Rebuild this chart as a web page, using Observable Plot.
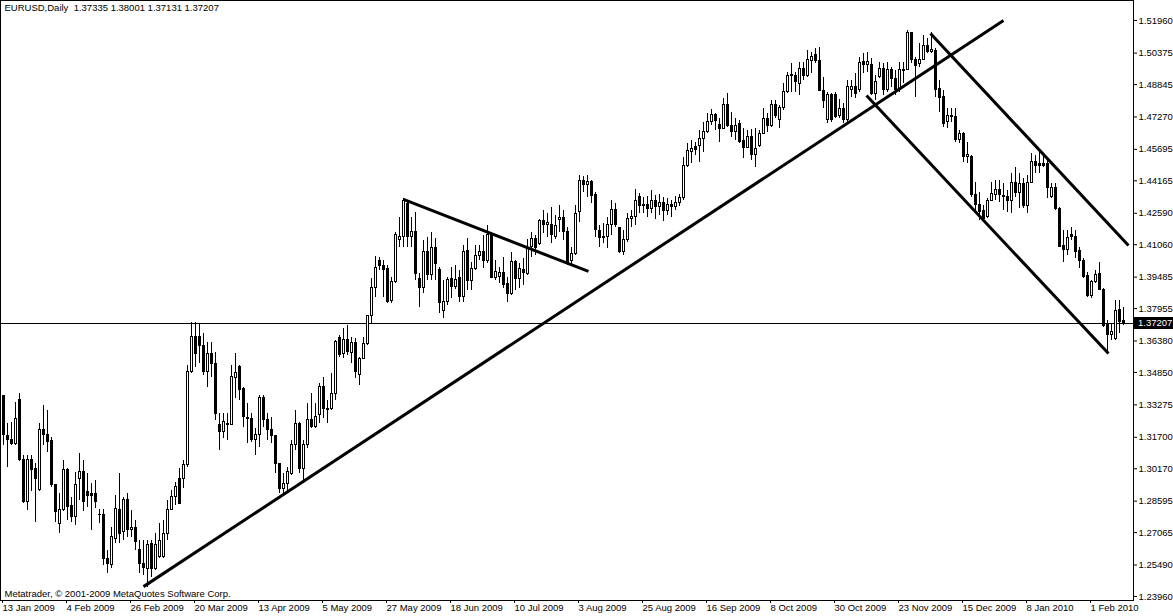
<!DOCTYPE html>
<html><head><meta charset="utf-8">
<script src="https://cdn.jsdelivr.net/npm/d3@7"></script>
<script src="https://cdn.jsdelivr.net/npm/@observablehq/plot@0.6"></script>
<style>
html,body{margin:0;padding:0;background:#fff;}
#chart{width:1173px;height:616px;overflow:hidden}
</style></head><body><div id="chart"></div>
<script>
const symbolTitle = "EURUSD,Daily  1.37335 1.38001 1.37131 1.37207";
const copyright = "Metatrader, \u00A9 2001-2009 MetaQuotes Software Corp.";
const opens = [
1.3369,1.3174,1.3155,1.3135,1.3349,1.3061,1.2855,1.3061,1.3014,1.2912,
1.3207,1.3179,1.3150,1.2936,1.2750,1.2815,1.3012,1.2834,1.2782,1.2968,
1.3001,1.2904,1.2892,1.2892,1.2790,1.2790,1.2579,1.2547,1.2676,1.2817,
1.2709,1.2863,1.2717,1.2730,1.2620,1.2555,1.2531,1.2652,1.2531,1.2587,
1.2587,1.2701,1.2817,1.2879,1.2968,1.2968,1.3033,1.3487,1.3657,1.3657,
1.3616,1.3487,1.3576,1.3527,1.3228,1.3195,1.3228,1.3231,1.3459,1.3514,
1.3406,1.3265,1.3260,1.3155,1.3179,1.3362,1.3255,1.3206,1.3174,1.3038,
1.2920,1.2944,1.2993,1.3131,1.3236,1.3017,1.3131,1.3252,1.3220,1.3276,
1.3414,1.3309,1.3309,1.3382,1.3654,1.3576,1.3641,1.3579,1.3628,1.3471,
1.3552,1.3625,1.3758,1.3896,1.4026,1.4005,1.3989,1.3832,1.3924,1.4130,
1.4143,1.4305,1.4143,1.4167,1.3940,1.3896,1.4070,1.3961,1.4091,1.3984,
1.3783,1.3827,1.3940,1.3900,1.3945,1.3851,1.4074,1.3929,1.3989,1.4053,
1.4070,1.4029,1.4151,1.3945,1.3951,1.3967,1.3916,1.3867,1.4021,1.3940,
1.3984,1.3964,1.4097,1.4134,1.4110,1.4223,1.4204,1.4204,1.4146,1.4224,
1.4237,1.4167,1.4029,1.4062,1.4264,1.4418,1.4394,1.4410,1.4350,1.4175,
1.4146,1.4143,1.4200,1.4276,1.4188,1.4070,1.4127,1.4232,1.4243,1.4337,
1.4292,1.4300,1.4280,1.4320,1.4290,1.4310,1.4270,1.4300,1.4290,1.4310,
1.4334,1.4491,1.4556,1.4580,1.4588,1.4620,1.4653,1.4702,1.4739,1.4689,
1.4669,1.4787,1.4685,1.4653,1.4693,1.4609,1.4577,1.4629,1.4540,1.4588,
1.4645,1.4718,1.4685,1.4787,1.4713,1.4771,1.4847,1.4932,1.4928,1.4888,
1.4961,1.4928,1.4998,1.5026,1.4998,1.4855,1.4710,1.4832,1.4836,1.4734,
1.4767,1.4710,1.4856,1.4872,1.4856,1.4993,1.4982,1.4982,1.4840,1.4921,
1.4961,1.4856,1.4956,1.4912,1.4856,1.4950,1.4956,1.5134,1.5005,1.4985,
1.5005,1.5074,1.5042,1.5050,1.4864,1.4823,1.4702,1.4734,1.4726,1.4613,
1.4645,1.4532,1.4532,1.4346,1.4297,1.4272,1.4240,1.4321,1.4350,1.4370,
1.4345,1.4337,1.4321,1.4405,1.4356,1.4402,1.4296,1.4405,1.4507,1.4499,
1.4499,1.4499,1.4340,1.4382,1.4280,1.4102,1.4081,1.4151,1.4146,1.4075,
1.4029,1.3956,1.3859,1.3924,1.3964,1.3887,1.3721,1.3665,1.3649,1.3790,1.37335];
const highs = [
1.3372,1.3236,1.3244,1.3338,1.3385,1.3082,1.3082,1.3082,1.3041,1.3236,
1.3325,1.3301,1.3171,1.2936,1.2899,1.3058,1.3017,1.2879,1.3001,1.3090,
1.3058,1.2993,1.2944,1.2960,1.2817,1.2817,1.2620,1.2733,1.2887,1.2992,
1.2879,1.2898,1.2814,1.2765,1.2668,1.2668,1.2668,1.2668,1.2701,1.2749,
1.2765,1.2863,1.2911,1.2952,1.3017,1.3057,1.3519,1.3730,1.3730,1.3722,
1.3673,1.3632,1.3632,1.3584,1.3284,1.3284,1.3284,1.3519,1.3576,1.3519,
1.3414,1.3333,1.3284,1.3211,1.3373,1.3373,1.3284,1.3268,1.3179,1.3041,
1.2993,1.3025,1.3155,1.3301,1.3244,1.3155,1.3333,1.3382,1.3333,1.3430,
1.3463,1.3349,1.3479,1.3641,1.3665,1.3698,1.3714,1.3657,1.3649,1.3560,
1.3657,1.3763,1.3940,1.4049,1.4045,1.4029,1.4005,1.3948,1.4167,1.4240,
1.4329,1.4321,1.4240,1.4264,1.3964,1.4126,1.4143,1.4167,1.4134,1.3997,
1.3932,1.3948,1.3994,1.4005,1.3981,1.4102,1.4134,1.4021,1.4102,1.4102,
1.4151,1.4199,1.4159,1.4029,1.3997,1.4045,1.3948,1.4070,1.4029,1.4013,
1.4037,1.4129,1.4167,1.4151,1.4231,1.4272,1.4256,1.4288,1.4248,1.4297,
1.4272,1.4188,1.4094,1.4297,1.4442,1.4438,1.4442,1.4418,1.4361,1.4200,
1.4208,1.4240,1.4321,1.4305,1.4191,1.4175,1.4256,1.4272,1.4373,1.4353,
1.4337,1.4340,1.4370,1.4345,1.4350,1.4335,1.4330,1.4320,1.4340,1.4350,
1.4531,1.4599,1.4612,1.4604,1.4661,1.4702,1.4742,1.4761,1.4745,1.4718,
1.4815,1.4839,1.4750,1.4718,1.4710,1.4669,1.4661,1.4664,1.4669,1.4661,
1.4766,1.4742,1.4807,1.4807,1.4782,1.4888,1.4945,1.4985,1.4945,1.4993,
1.4993,1.5050,1.5042,1.5058,1.5066,1.4920,1.4848,1.4840,1.4848,1.4810,
1.4791,1.4904,1.4904,1.4937,1.5018,1.5034,1.5042,1.5010,1.4929,1.4993,
1.4985,1.4993,1.4969,1.4953,1.4993,1.4993,1.5147,1.5139,1.5015,1.5083,
1.5123,1.5107,1.5139,1.5058,1.4904,1.4856,1.4767,1.4767,1.4767,1.4661,
1.4653,1.4605,1.4540,1.4410,1.4362,1.4297,1.4329,1.4410,1.4418,1.4418,
1.4402,1.4369,1.4450,1.4483,1.4450,1.4426,1.4442,1.4551,1.4540,1.4556,
1.4540,1.4523,1.4402,1.4402,1.4288,1.4175,1.4175,1.4188,1.4175,1.4094,
1.4037,1.3972,1.3932,1.3981,1.4021,1.3891,1.3738,1.3720,1.3835,1.3835,1.38001];
const lows = [
1.3131,1.3025,1.3131,1.3131,1.3050,1.2847,1.2815,1.2904,1.2758,1.2904,
1.3131,1.3098,1.2928,1.2758,1.2701,1.2807,1.2766,1.2758,1.2742,1.2863,
1.2807,1.2831,1.2717,1.2823,1.2749,1.2547,1.2506,1.2530,1.2652,1.2652,
1.2668,1.2684,1.2684,1.2620,1.2506,1.2498,1.2441,1.2490,1.2522,1.2579,
1.2579,1.2668,1.2814,1.2838,1.2846,1.2919,1.3025,1.3479,1.3511,1.3527,
1.3471,1.3414,1.3462,1.3252,1.3106,1.3163,1.3155,1.3231,1.3357,1.3349,
1.3219,1.3138,1.3147,1.3082,1.3122,1.3219,1.3155,1.3138,1.2993,1.2896,
1.2896,1.2896,1.2985,1.3106,1.2993,1.2961,1.3115,1.3212,1.3212,1.3236,
1.3260,1.3236,1.3301,1.3349,1.3560,1.3552,1.3568,1.3528,1.3455,1.3422,
1.3547,1.3617,1.3722,1.3848,1.3981,1.3851,1.3819,1.3819,1.3916,1.4094,
1.4094,1.4094,1.4094,1.3932,1.3799,1.3867,1.3932,1.3932,1.3932,1.3770,
1.3746,1.3811,1.3843,1.3887,1.3827,1.3827,1.3883,1.3883,1.3980,1.4029,
1.3989,1.4013,1.3940,1.3932,1.3916,1.3891,1.3827,1.3859,1.3883,1.3891,
1.3907,1.3956,1.4045,1.4053,1.4102,1.4159,1.4142,1.4110,1.4130,1.4167,
1.4127,1.4005,1.4005,1.4054,1.4216,1.4361,1.4337,1.4305,1.4143,1.4094,
1.4110,1.4086,1.4151,1.4191,1.4062,1.4054,1.4118,1.4191,1.4200,1.4256,
1.4256,1.4240,1.4260,1.4230,1.4250,1.4220,1.4250,1.4240,1.4270,1.4290,
1.4320,1.4483,1.4499,1.4540,1.4507,1.4556,1.4645,1.4685,1.4661,1.4604,
1.4664,1.4677,1.4629,1.4612,1.4596,1.4523,1.4572,1.4515,1.4483,1.4580,
1.4642,1.4653,1.4677,1.4718,1.4669,1.4758,1.4839,1.4847,1.4847,1.4831,
1.4904,1.4920,1.4936,1.4985,1.4855,1.4766,1.4694,1.4702,1.4718,1.4718,
1.4694,1.4694,1.4823,1.4815,1.4848,1.4937,1.4945,1.4832,1.4807,1.4912,
1.4832,1.4848,1.4872,1.4832,1.4848,1.4888,1.4953,1.4985,1.4823,1.4969,
1.5002,1.5034,1.5034,1.4823,1.4750,1.4678,1.4669,1.4702,1.4605,1.4597,
1.4507,1.4499,1.4337,1.4256,1.4224,1.4216,1.4232,1.4321,1.4321,1.4313,
1.4272,1.4264,1.4256,1.4337,1.4280,1.4280,1.4256,1.4402,1.4450,1.4450,
1.4480,1.4329,1.4329,1.4272,1.4094,1.4021,1.4053,1.4126,1.4037,1.3989,
1.3940,1.3851,1.3843,1.3916,1.3883,1.3705,1.3579,1.3640,1.3640,1.3673,1.37131];
const closes = [
1.3179,1.3155,1.3135,1.3260,1.3058,1.2855,1.3061,1.3009,1.2968,1.3203,
1.3179,1.3147,1.2936,1.2807,1.2815,1.3012,1.2831,1.2782,1.2936,1.3001,
1.2855,1.2883,1.2883,1.2855,1.2793,1.2579,1.2555,1.2684,1.2822,1.2701,
1.2863,1.2717,1.2730,1.2660,1.2555,1.2535,1.2644,1.2531,1.2644,1.2668,
1.2701,1.2817,1.2879,1.2927,1.2846,1.3033,1.3486,1.3657,1.3576,1.3616,
1.3487,1.3576,1.3527,1.3284,1.3195,1.3244,1.3236,1.3462,1.3482,1.3398,
1.3268,1.3260,1.3155,1.3182,1.3362,1.3255,1.3206,1.3174,1.3038,1.2920,
1.2941,1.3001,1.3131,1.3236,1.3017,1.3131,1.3252,1.3220,1.3268,1.3414,
1.3309,1.3301,1.3382,1.3633,1.3568,1.3641,1.3584,1.3628,1.3487,1.3552,
1.3625,1.3758,1.3897,1.3994,1.4005,1.3981,1.3827,1.3924,1.4151,1.4146,
1.4318,1.4143,1.4167,1.3964,1.3896,1.4070,1.3961,1.4091,1.4010,1.3822,
1.3827,1.3935,1.3900,1.3935,1.3851,1.4072,1.3929,1.3989,1.4053,1.4070,
1.4029,1.4151,1.3945,1.3972,1.3967,1.3908,1.3867,1.4021,1.3940,1.3989,
1.3967,1.4091,1.4134,1.4091,1.4223,1.4204,1.4210,1.4151,1.4199,1.4237,
1.4167,1.4021,1.4062,1.4253,1.4418,1.4394,1.4410,1.4345,1.4178,1.4140,
1.4140,1.4200,1.4276,1.4200,1.4070,1.4127,1.4232,1.4243,1.4321,1.4292,
1.4300,1.4280,1.4320,1.4290,1.4310,1.4270,1.4300,1.4290,1.4310,1.4334,
1.4491,1.4561,1.4572,1.4567,1.4620,1.4653,1.4702,1.4739,1.4706,1.4669,
1.4787,1.4685,1.4653,1.4685,1.4604,1.4577,1.4629,1.4540,1.4572,1.4645,
1.4718,1.4685,1.4787,1.4734,1.4771,1.4847,1.4928,1.4925,1.4896,1.4961,
1.4928,1.5004,1.5021,1.4998,1.4855,1.4804,1.4832,1.4710,1.4726,1.4767,
1.4710,1.4872,1.4872,1.4840,1.4989,1.4982,1.4993,1.4840,1.4896,1.4961,
1.4856,1.4953,1.4912,1.4856,1.4953,1.4956,1.5134,1.5005,1.4977,1.5005,
1.5074,1.5042,1.5053,1.4856,1.4820,1.4694,1.4734,1.4726,1.4613,1.4645,
1.4532,1.4540,1.4346,1.4297,1.4265,1.4232,1.4321,1.4354,1.4370,1.4350,
1.4337,1.4321,1.4405,1.4356,1.4402,1.4296,1.4405,1.4507,1.4491,1.4491,
1.4491,1.4382,1.4382,1.4280,1.4097,1.4081,1.4139,1.4143,1.4070,1.4029,
1.3948,1.3859,1.3924,1.3961,1.3887,1.3713,1.3665,1.3680,1.3786,1.3730,1.37207];
const dateTickIndex = [0,16,32,48,64,80,96,112,128,144,160,176,192,208,224,240,256,272];
const dateTickLabels = ["13 Jan 2009","4 Feb 2009","26 Feb 2009","20 Mar 2009","13 Apr 2009","5 May 2009","27 May 2009","18 Jun 2009","10 Jul 2009","3 Aug 2009","25 Aug 2009","16 Sep 2009","8 Oct 2009","30 Oct 2009","23 Nov 2009","15 Dec 2009","8 Jan 2010","1 Feb 2010"];
const priceTicks = [1.51960,1.50375,1.48845,1.47270,1.45695,1.44165,1.42590,1.41060,1.39485,1.37955,1.36380,1.34850,1.33275,1.31700,1.30170,1.28595,1.27065,1.25490,1.23960];
const trendFromIndex = [35, 100, 231.75, 215.75];
const trendFromPrice = [1.2444, 1.4326, 1.5133, 1.4831];
const trendToIndex = [250, 146.25, 281.25, 276.25];
const trendToPrice = [1.5196, 1.3976, 1.4102, 1.3577];

const candles = opens.map((o, i) => ({i, o, h: highs[i], l: lows[i], c: closes[i]}));
const trends = trendFromIndex.map((x, k) => ({x1: x, y1: trendFromPrice[k], x2: trendToIndex[k], y2: trendToPrice[k]}));
const lastClose = closes[closes.length - 1];
const labelOf = new Map(dateTickIndex.map((t, k) => [t, dateTickLabels[k]]));
const FONT = "Liberation Sans, Arial, sans-serif";

const lastLabel = (index, scales, values, dimensions) => {
  const y = Math.round(scales.y(lastClose));
  const x0 = dimensions.width - dimensions.marginRight;
  const g = d3.create("svg:g");
  g.append("rect").attr("x", x0 + 1).attr("y", y - 6).attr("width", 39).attr("height", 12).attr("fill", "black");
  g.append("text").attr("x", x0 + 5).attr("y", y).attr("dy", "0.35em").attr("text-anchor", "start")
    .attr("fill", "white").attr("font-family", FONT).attr("font-size", 9.5).text(lastClose.toFixed(5));
  return g.node();
};

const chart = Plot.plot({
  width: 1173,
  height: 616,
  marginLeft: 0,
  marginTop: 0,
  marginRight: 40,
  marginBottom: 16,
  style: {fontFamily: FONT, fontSize: "9.5px", background: "white", color: "black"},
  x: {type: "linear", domain: [0, 280], range: [3, 1123]},
  y: {type: "linear", domain: [1.2396, 1.5196], range: [596, 20]},
  marks: [
    Plot.ruleY([lastClose], {stroke: "black", strokeWidth: 1, shapeRendering: "crispEdges"}),
    Plot.ruleX(candles, {x: "i", y1: "l", y2: "h", stroke: "black", strokeWidth: 1, shapeRendering: "crispEdges"}),
    Plot.rect(candles, {filter: d => d.c >= d.o, x1: d => d.i - 0.25, x2: d => d.i + 0.25, y1: "o", y2: "c", fill: "white", stroke: "black", strokeWidth: 1, shapeRendering: "crispEdges"}),
    Plot.rect(candles, {filter: d => d.c < d.o, x1: d => d.i - 0.25, x2: d => d.i + 0.25, y1: "o", y2: "c", fill: "black", stroke: "black", strokeWidth: 1, shapeRendering: "crispEdges"}),
    Plot.link(trends, {x1: "x1", y1: "y1", x2: "x2", y2: "y2", stroke: "black", strokeWidth: 3}),
    Plot.frame({stroke: "black", shapeRendering: "crispEdges"}),
    Plot.axisY({ticks: priceTicks, anchor: "right", tickSize: 3, tickPadding: 2, tickFormat: d => d.toFixed(5), label: null, fontSize: 9.5}),
    Plot.axisX({ticks: dateTickIndex, anchor: "bottom", tickSize: 3, tickPadding: 1, tickFormat: d => labelOf.get(d), textAnchor: "start", dx: -1, label: null, fontSize: 9.5}),
    Plot.text([symbolTitle], {frameAnchor: "top-left", dx: 4, dy: 4, fontSize: 9.5, textAnchor: "start", lineAnchor: "top"}),
    Plot.text([copyright], {frameAnchor: "bottom-left", dx: 4, dy: -4, fontSize: 9.5, textAnchor: "start", lineAnchor: "bottom"}),
    lastLabel
  ]
});
document.getElementById("chart").appendChild(chart);
</script></body></html>
